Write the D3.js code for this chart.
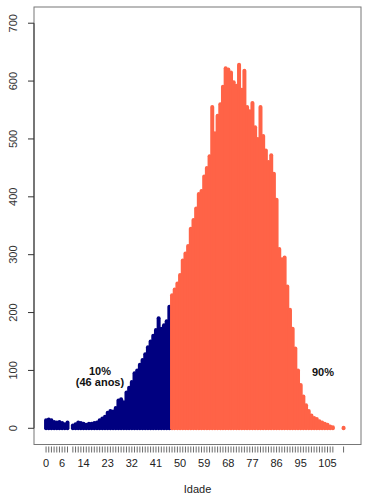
<!DOCTYPE html>
<html>
<head>
<meta charset="utf-8">
<script src="https://cdn.jsdelivr.net/npm/d3@7"></script>
<style>
  body { margin: 0; background: #fff; }
  svg { display: block; font-family: "Liberation Sans", Arial, sans-serif; }
</style>
</head>
<body>
<div id="chart"></div>
<script>
// ages present in the data (age 9 and 108-110 have no cases)
const ages = [0, 1, 2, 3, 4, 5, 6, 7, 8,
  10, 11, 12, 13, 14, 15, 16, 17, 18, 19, 20, 21, 22, 23, 24, 25, 26, 27, 28, 29,
  30, 31, 32, 33, 34, 35, 36, 37, 38, 39, 40, 41, 42, 43, 44, 45, 46, 47, 48, 49,
  50, 51, 52, 53, 54, 55, 56, 57, 58, 59, 60, 61, 62, 63, 64, 65, 66, 67, 68, 69,
  70, 71, 72, 73, 74, 75, 76, 77, 78, 79, 80, 81, 82, 83, 84, 85, 86, 87, 88, 89,
  90, 91, 92, 93, 94, 95, 96, 97, 98, 99, 100, 101, 102, 103, 104, 105, 106, 107, 111];

const counts = [14, 15, 14, 11, 10, 11, 9, 7, 10,
  5, 7, 10, 9, 8, 6, 8, 8, 9, 10, 14, 17, 20, 27, 30, 29, 35, 48, 50, 45,
  62, 70, 80, 95, 100, 110, 118, 128, 140, 150, 160, 170, 190, 172, 178, 185, 210, 230, 240, 250,
  265, 290, 302, 315, 345, 360, 380, 405, 410, 435, 450, 470, 555, 510, 540, 560, 590, 622, 620, 615,
  598, 592, 628, 585, 618, 555, 548, 562, 520, 500, 555, 505, 480, 460, 472, 440, 395, 310, 292, 295,
  245, 205, 172, 138, 100, 75, 55, 40, 30, 22, 18, 16, 12, 10, 8, 6, 3, 2, 1];

const cutAge = 46;
const xLabels = [0, 6, 14, 23, 32, 41, 50, 59, 68, 77, 86, 95, 105];
const yTicks = [0, 100, 200, 300, 400, 500, 600, 700];

const width = 365, height = 495;
const box = {left: 34, right: 361, top: 7, bottom: 444.5};

const data = ages.map((a, i) => ({age: a, n: counts[i]}));

const x = d3.scaleLinear().domain([-4.5, 117.5]).range([box.left, box.right]);
const y = d3.scaleLinear().domain([-28, 728]).range([box.bottom, box.top]);

const svg = d3.select("#chart").append("svg")
    .attr("width", width)
    .attr("height", height);

// bars as thick vertical lines
svg.append("g")
    .selectAll("line")
    .data(data)
    .join("line")
    .attr("x1", d => x(d.age))
    .attr("x2", d => x(d.age))
    .attr("y1", y(0))
    .attr("y2", d => y(d.n))
    .attr("stroke", d => d.age <= cutAge ? "#000080" : "#ff6347")
    .attr("stroke-width", 4)
    .attr("stroke-linecap", "round");

// box
svg.append("rect")
    .attr("x", box.left)
    .attr("y", box.top)
    .attr("width", box.right - box.left)
    .attr("height", box.bottom - box.top)
    .attr("fill", "none")
    .attr("stroke", "#777")
    .attr("stroke-width", 1);

// y axis
const yAxis = svg.append("g");
yAxis.append("line")
    .attr("x1", box.left).attr("x2", box.left)
    .attr("y1", y(0)).attr("y2", y(700))
    .attr("stroke", "#333");
yAxis.selectAll("line.tick")
    .data(yTicks)
    .join("line")
    .attr("class", "tick")
    .attr("x1", box.left - 6).attr("x2", box.left)
    .attr("y1", d => y(d)).attr("y2", d => y(d))
    .attr("stroke", "#333");
yAxis.selectAll("text")
    .data(yTicks)
    .join("text")
    .attr("transform", d => `translate(17,${y(d)}) rotate(-90)`)
    .attr("text-anchor", "middle")
    .attr("font-size", 11)
    .attr("fill", "#333")
    .text(d => d);

// x axis: a tick at each age, labels only where they fit
const xAxis = svg.append("g");
xAxis.selectAll("line")
    .data(ages)
    .join("line")
    .attr("x1", d => x(d)).attr("x2", d => x(d))
    .attr("y1", 446.5).attr("y2", 452.5)
    .attr("stroke", "#444")
    .attr("stroke-width", 0.8);
xAxis.selectAll("text")
    .data(xLabels)
    .join("text")
    .attr("x", d => x(d))
    .attr("y", 467)
    .attr("text-anchor", "middle")
    .attr("font-size", 11)
    .attr("fill", "#222")
    .text(d => d);

svg.append("text")
    .attr("x", (box.left + box.right) / 2)
    .attr("y", 493)
    .attr("text-anchor", "middle")
    .attr("font-size", 11)
    .attr("fill", "#222")
    .text("Idade");

// annotations
const notes = svg.append("g")
    .attr("font-size", 11)
    .attr("font-weight", "bold")
    .attr("text-anchor", "middle")
    .attr("fill", "#111");
notes.append("text").attr("x", 100).attr("y", 375).text("10%");
notes.append("text").attr("x", 100).attr("y", 385.5).text("(46 anos)");
notes.append("text").attr("x", 323).attr("y", 376).text("90%");
</script>
</body>
</html>
